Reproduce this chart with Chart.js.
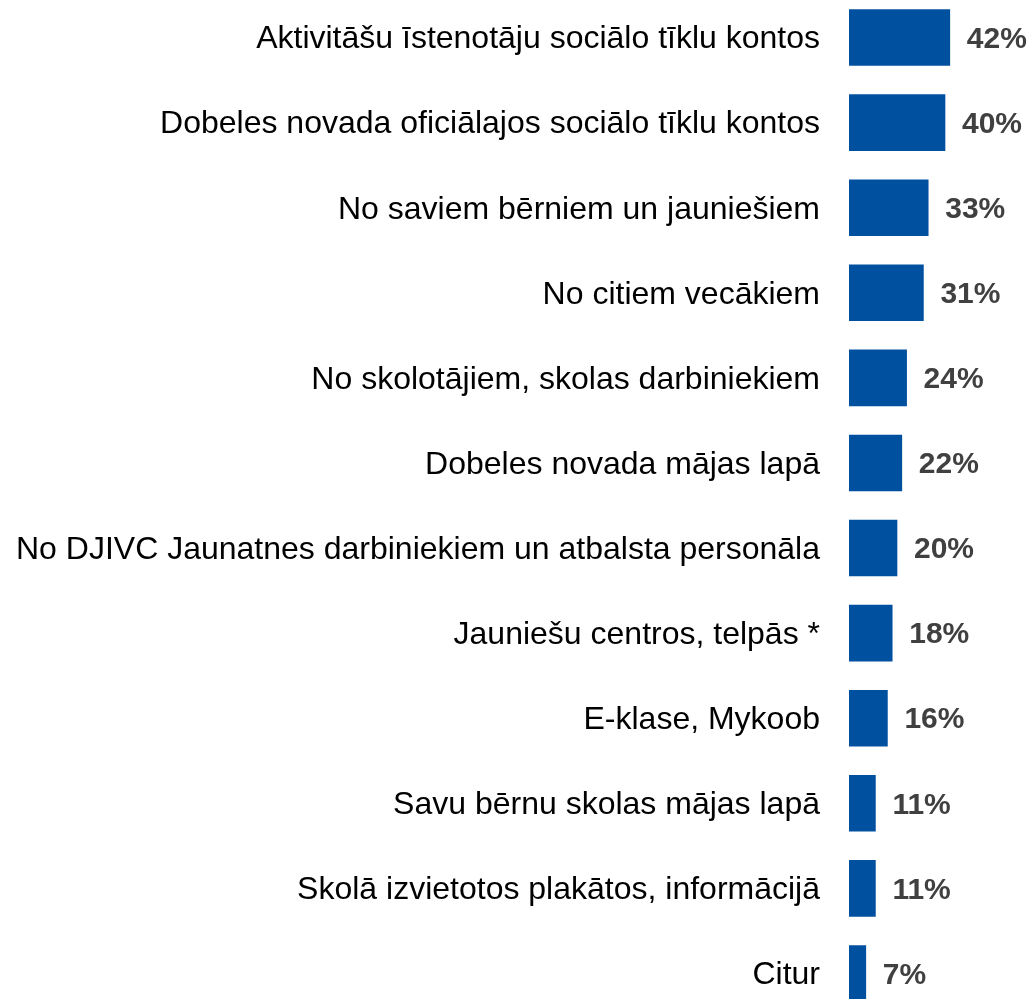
<!DOCTYPE html>
<html>
<head>
<meta charset="utf-8">
<script src="https://cdn.jsdelivr.net/npm/chart.js@4"></script>
<style>
  html, body { margin: 0; padding: 0; background: #fff; overflow: hidden; }
  #wrap { position: absolute; left: 0; top: -5px; width: 1033px; height: 1021px; }
</style>
</head>
<body>
<div id="wrap"><canvas id="chart" width="1033" height="1021"></canvas></div>
<script>
// categories, top to bottom
const categories = [
  "Aktivitāšu īstenotāju sociālo tīklu kontos",
  "Dobeles novada oficiālajos sociālo tīklu kontos",
  "No saviem bērniem un jauniešiem",
  "No citiem vecākiem",
  "No skolotājiem, skolas darbiniekiem",
  "Dobeles novada mājas lapā",
  "No DJIVC Jaunatnes darbiniekiem un atbalsta personāla",
  "Jauniešu centros, telpās *",
  "E-klase, Mykoob",
  "Savu bērnu skolas mājas lapā",
  "Skolā izvietotos plakātos, informācijā",
  "Citur"
];

// share of answers, %
const shares = [42, 40, 33, 31, 24, 22, 20, 18, 16, 11, 11, 7];

const barColor = "#0050a0";

// draws "42%" etc right of every bar
const valueLabels = {
  id: "valueLabels",
  afterDatasetsDraw(chart) {
    const ctx = chart.ctx;
    const meta = chart.getDatasetMeta(0);
    ctx.save();
    ctx.font = "bold 30px 'Liberation Sans', Arial, sans-serif";
    ctx.fillStyle = "#404040";
    ctx.textAlign = "left";
    ctx.textBaseline = "middle";
    meta.data.forEach((bar, i) => {
      ctx.fillText(shares[i] + "%", bar.x + 17, bar.y + 2);
    });
    ctx.restore();
  }
};

new Chart(document.getElementById("chart"), {
  type: "bar",
  data: {
    labels: categories,
    datasets: [{
      data: shares,
      backgroundColor: barColor,
      barThickness: 56
    }]
  },
  options: {
    indexAxis: "y",
    responsive: false,
    animation: false,
    devicePixelRatio: 1,
    layout: { padding: { left: 0, right: 64, top: 0, bottom: 0 } },
    plugins: { legend: { display: false }, tooltip: { enabled: false } },
    scales: {
      x: { display: false, min: 0, max: 50 },
      y: {
        grid: { display: false, drawTicks: false },
        border: { display: false },
        ticks: {
          color: "#000",
          padding: 29,
          labelOffset: 2,
          font: { family: "'Liberation Sans', Arial, sans-serif", size: 32 }
        },
        afterFit(scale) {
          scale.width = 849;
          scale.paddingTop = 0;
          scale.paddingBottom = 0;
        }
      }
    }
  },
  plugins: [valueLabels]
});
</script>
</body>
</html>
